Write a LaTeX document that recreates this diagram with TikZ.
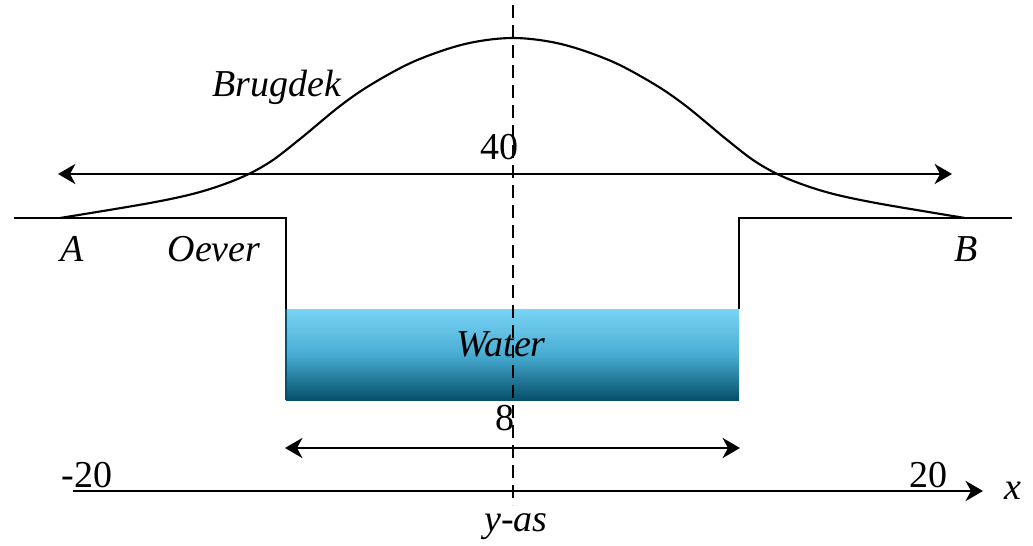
\documentclass[tikz,border=0pt]{standalone}
\usepackage{fontspec}
\setmainfont{Liberation Serif}
\usetikzlibrary{arrows.meta}
\definecolor{watertop}{HTML}{7AD4F6}
\definecolor{watermid}{HTML}{48ACD2}
\definecolor{waterbot}{HTML}{06506B}
\tikzset{
  lbl/.style={font=\fontsize{28.5}{30}\selectfont\itshape, inner sep=0pt},
  num/.style={font=\fontsize{28.5}{30}\selectfont, inner sep=0pt},
  thick line/.style={line width=2.2pt},
  dimarrow/.style={line width=2.2pt, {Stealth[length=13pt,width=15pt,inset=4pt]}-{Stealth[length=13pt,width=15pt,inset=4pt]}},
  axisarrow/.style={line width=2.2pt, -{Stealth[length=13pt,width=15pt,inset=4pt]}},
  yaxis/.style={line width=2pt, dash pattern=on 10pt off 5pt}
}
\begin{document}
\begin{tikzpicture}[x=0.75pt,y=-0.75pt]
\useasboundingbox (0,0) rectangle (1033,546);
% water
\shade[top color=watertop, bottom color=waterbot, middle color=watermid] (286,309) rectangle (739,400);
\draw[waterbot, line width=0.8pt] (286,309) -- (286,400);
% coordinates
\coordinate (gl) at (14,218);
\coordinate (bl) at (286,218);
\coordinate (blw) at (286,309);
\coordinate (br) at (739,218);
\coordinate (brw) at (739,309);
\coordinate (gr) at (1012,218);
% banks
\draw[thick line] (gl) -- (bl) -- (blw);
\draw[thick line] (brw) -- (br) -- (gr);
% bridge deck
\draw[line width=1.6pt] plot[smooth, tension=0.55] coordinates {(60,218) (150,203) (200,192) (240,178) (270,162) (300,139) (340,106) (372,84) (415,61) (465,44) (513,38) (561,44) (611,61) (654,84) (686,106) (726,139) (756,162) (786,178) (826,192) (876,203) (965,218)};
% dimension arrows
\coordinate (d1l) at (58,174);
\coordinate (d1r) at (952,174);
\draw[dimarrow] (d1l) -- (d1r);
\coordinate (d2l) at (285,448);
\coordinate (d2r) at (740,448);
\draw[dimarrow] (d2l) -- (d2r);
% x axis
\coordinate (xs) at (73,491);
\coordinate (xe) at (983,491);
\draw[axisarrow] (xs) -- (xe);
% y axis
\coordinate (yt) at (513,5);
\coordinate (yb) at (513,505);
\draw[yaxis] (yt) -- (yb);
% labels
\node[lbl] (brug) at (277,87) {Brugdek};
\node[num] (n40) at (499,147) {40};
\node[lbl] (la) at (72,249) {A};
\node[lbl] (oever) at (214,249) {Oever};
\node[lbl] (lb) at (966,249) {B};
\node[lbl] (water) at (501,344) {Water};
\node[num] (n8) at (505,418) {8};
\node[num] (m20) at (87,475) {-20};
\node[num] (p20) at (928,475) {20};
\node[lbl] (lx) at (1013,491) {x};
\node[lbl] (yas) at (516,527) {y-as};
\end{tikzpicture}
\end{document}
